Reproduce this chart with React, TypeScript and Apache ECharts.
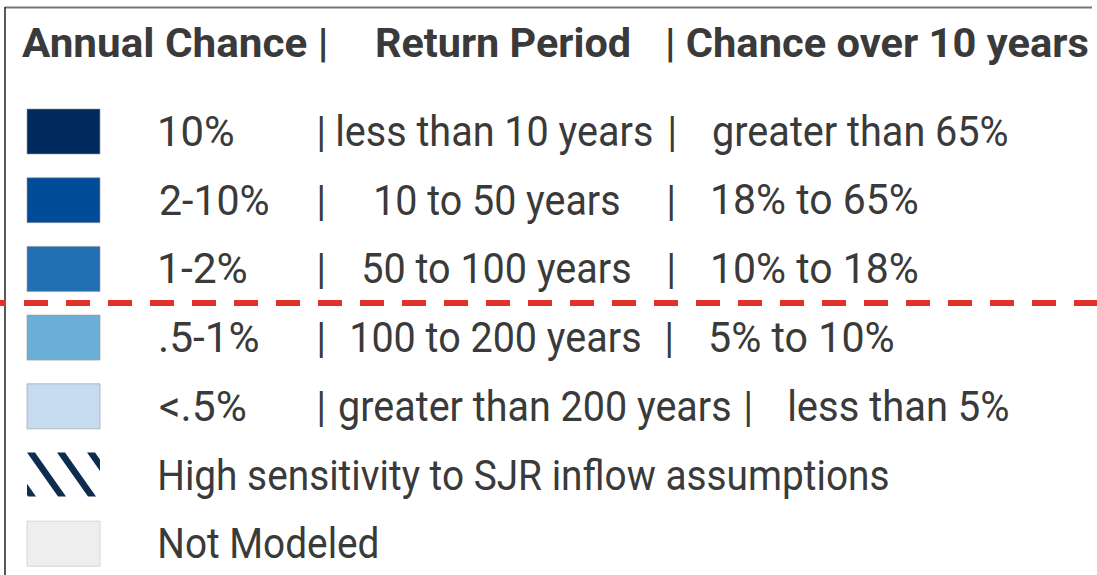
import React, { useEffect, useRef } from "react";
import * as echarts from "echarts";

// ---- content ----
const headers = ["Annual Chance |", "Return Period", "| Chance over 10 years"];
const annualChance = ["10%", "2-10%", "1-2%", ".5-1%", "<.5%"];
const returnPeriod = [
  "less than 10 years",
  "10 to 50 years",
  "50 to 100 years",
  "100 to 200 years",
  "greater than 200 years",
];
const chanceOver10 = [
  "greater than 65%",
  "18% to 65%",
  "10% to 18%",
  "5% to 10%",
  "less than 5%",
];
const swatchColors = ["#002a5f", "#004c98", "#2170b4", "#6baed6", "#c6dbef"];
const extraLabels = ["High sensitivity to SJR inflow assumptions", "Not Modeled"];

// ---- layout (glyph extents, px) ----
const headerSpan = [[22, 325], [377, 629], [668, 1088]];
const annualSpan = [[160, 233], [160, 268], [160, 246], [160, 258], [160, 245]];
const pipe1Center = [321, 321, 321, 321, 321];
const returnSpan = [[338, 652], [376, 619], [364, 630], [352, 640], [339, 730]];
const pipe2Center = [672, 671, 671, 669, 748];
const chanceSpan = [[713, 1007], [713, 917], [713, 917], [711, 893], [790, 1008]];
const extraSpan = [[160, 888], [160, 377]];

const FONT = "Roboto";
const TEXT_COLOR = "#3a3a3a";

function clipPoly(pts: number[][], x0: number, x1: number, y0: number, y1: number) {
  const edges: [(p: number[]) => boolean, (a: number[], b: number[]) => number[]][] = [
    [(p) => p[0] >= x0, (a, b) => { const t = (x0 - a[0]) / (b[0] - a[0]); return [x0, a[1] + t * (b[1] - a[1])]; }],
    [(p) => p[0] <= x1, (a, b) => { const t = (x1 - a[0]) / (b[0] - a[0]); return [x1, a[1] + t * (b[1] - a[1])]; }],
    [(p) => p[1] >= y0, (a, b) => { const t = (y0 - a[1]) / (b[1] - a[1]); return [a[0] + t * (b[0] - a[0]), y0]; }],
    [(p) => p[1] <= y1, (a, b) => { const t = (y1 - a[1]) / (b[1] - a[1]); return [a[0] + t * (b[0] - a[0]), y1]; }],
  ];
  let out = pts;
  for (const [inside, inter] of edges) {
    const inp = out;
    out = [];
    for (let i = 0; i < inp.length; i++) {
      const cur = inp[i];
      const prev = inp[(i + inp.length - 1) % inp.length];
      if (inside(cur)) {
        if (!inside(prev)) out.push(inter(prev, cur));
        out.push(cur);
      } else if (inside(prev)) {
        out.push(inter(prev, cur));
      }
    }
    if (!out.length) break;
  }
  return out;
}

export default function App() {
  const ref = useRef<HTMLDivElement>(null);
  useEffect(() => {
    document.body.style.margin = "0";
    if (!ref.current) return;
    const chart = echarts.init(ref.current, undefined, { renderer: "svg" });

    const canvas = document.createElement("canvas");
    const ctx = canvas.getContext("2d")!;
    const measure = (t: string, font: string) => {
      ctx.font = font;
      const m = ctx.measureText(t);
      return { left: m.actualBoundingBoxLeft, width: m.actualBoundingBoxLeft + m.actualBoundingBoxRight };
    };
    const regFont = `400 42px ${FONT}`;
    const boldFont = `700 41px ${FONT}`;
    const regScale = 728 / measure(extraLabels[0], regFont).width;

    const style = (t: string, bold: boolean) => ({
      text: t,
      fontFamily: FONT,
      fontSize: bold ? 41 : 42,
      fontWeight: bold ? "bold" : "normal",
      fill: TEXT_COLOR,
      textAlign: "left",
      verticalAlign: "middle",
      textVerticalAlign: "middle",
    });

    // text fitted between glyph extents
    const fit = (t: string, span: number[], cy: number, bold = false) => {
      const m = measure(t, bold ? boldFont : regFont);
      const s = (span[1] - span[0]) / m.width;
      return { type: "text", x: span[0] + m.left * s, y: cy, scaleX: s, style: style(t, bold) };
    };
    // centred glyph
    const centred = (t: string, cx: number, cy: number) => {
      const m = measure(t, regFont);
      const s = regScale;
      return { type: "text", x: cx - (m.width / 2 - m.left) * s, y: cy, scaleX: s, style: style(t, false) };
    };

    const rowTop = (i: number) => 109 + i * 68.7;
    const sw = { x: 27, w: 73, h: 45 };
    const elements: any[] = [];

    // frame
    elements.push({ type: "line", shape: { x1: 5, y1: 7.5, x2: 1092, y2: 7.5 }, style: { stroke: "#777", lineWidth: 2 } });
    elements.push({ type: "line", shape: { x1: 5, y1: 7, x2: 5, y2: 575 }, style: { stroke: "#222", lineWidth: 1.5 } });

    // header
    headers.forEach((h, i) => elements.push(fit(h, headerSpan[i], 43, true)));

    // rows
    annualChance.forEach((a, i) => {
      const top = rowTop(i);
      const cy = top + sw.h / 2;
      elements.push({
        type: "rect",
        shape: { x: sw.x, y: top, width: sw.w, height: sw.h },
        style: { fill: swatchColors[i], stroke: "rgba(150,150,150,0.6)", lineWidth: 1 },
      });
      elements.push(fit(a, annualSpan[i], cy));
      elements.push(centred("|", pipe1Center[i], cy));
      elements.push(fit(returnPeriod[i], returnSpan[i], cy));
      elements.push(centred("|", pipe2Center[i], cy));
      elements.push(fit(chanceOver10[i], chanceSpan[i], cy));
    });

    // hatched icon
    const hTop = rowTop(5);
    const hBot = hTop + 44;
    [-3, 27, 57, 87].forEach((x0) => {
      const poly = clipPoly(
        [[x0, hTop], [x0 + 8, hTop], [x0 + 39, hBot], [x0 + 31, hBot]],
        sw.x, sw.x + sw.w, hTop, hBot
      );
      if (poly.length >= 3) elements.push({ type: "polygon", shape: { points: poly }, style: { fill: "#0c2d4e" } });
    });
    elements.push(fit(extraLabels[0], extraSpan[0], hTop + sw.h / 2));

    // not modeled
    const nTop = rowTop(6);
    elements.push({
      type: "rect",
      shape: { x: sw.x, y: nTop, width: sw.w, height: sw.h },
      style: { fill: "#eeeeee", stroke: "#d6d6d6", lineWidth: 1 },
    });
    elements.push(fit(extraLabels[1], extraSpan[1], nTop + sw.h / 2));

    // dashed separator
    elements.push({
      type: "line",
      shape: { x1: -18, y1: 303, x2: 1097, y2: 303 },
      style: { stroke: "#e0322b", lineWidth: 6, lineDash: [24, 18] },
      z: 10,
    });

    chart.setOption({ animation: false, graphic: { elements } });
    return () => chart.dispose();
  }, []);
  return <div ref={ref} style={{ width: 1097, height: 575, background: "#fff" }} />;
}
